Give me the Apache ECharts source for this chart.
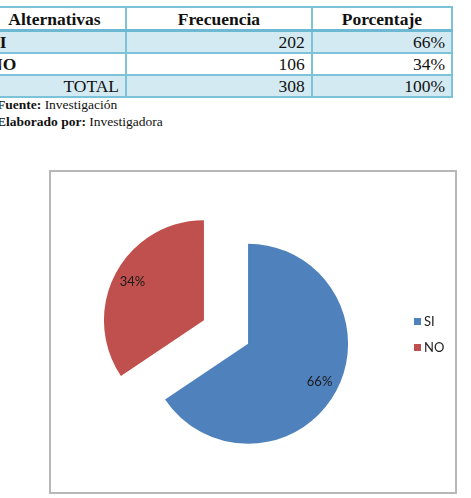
<!DOCTYPE html>
<html>
<head>
<meta charset="utf-8">
<title></title>
<style>
  body { margin: 0; background: #fff; width: 471px; height: 498px; overflow: hidden; position: relative; }
  #tabla { position: absolute; left: -18px; top: 6px; border-collapse: collapse; font-family: "Liberation Serif", "Times New Roman", serif; font-size: 17.5px; color: #111; }
  #tabla td, #tabla th { border: 2px solid #7cc3da; padding: 0 6px; line-height: 20px; }
  #tabla th { height: 21px; font-weight: bold; text-align: center; border-bottom: 3px solid #6db9d3; }
  #tabla tr.sombra td { background: #d4eaf2; }
  #tabla td.nom { font-weight: bold; text-align: left; }
  #tabla td.num { text-align: right; }
  #tabla td.tot { text-align: right; font-weight: normal; }
  .nota { position: absolute; left: -3px; font-family: "Liberation Serif", "Times New Roman", serif; font-size: 13.5px; color: #111; }
  #main { position: absolute; left: 49px; top: 170px; width: 404px; height: 320px; border: 2px solid #b8b8b8; }
</style>
</head>
<body>
<table id="tabla">
  <colgroup><col style="width:146px"><col style="width:193px"><col style="width:144px"></colgroup>
  <thead><tr><th>Alternativas</th><th>Frecuencia</th><th>Porcentaje</th></tr></thead>
  <tbody id="cuerpo"></tbody>
</table>
<div class="nota" style="top:97px"><b>Fuente:</b> Investigación</div>
<div class="nota" style="top:114px"><b>Elaborado por:</b> Investigadora</div>
<div id="main"></div>
<script src="https://cdn.jsdelivr.net/npm/echarts@6/dist/echarts.min.js"></script>
<script>
// datos de la tabla y del grafico
var alternativas = ['SI', 'NO'];
var frecuencias = [202, 106];
var porcentajes = ['66%', '34%'];
var totalTexto = ['TOTAL', '308', '100%'];

// llenar la tabla
var cuerpo = document.getElementById('cuerpo');
var html = '';
for (var i = 0; i < alternativas.length; i++) {
    html += '<tr class="' + (i % 2 === 0 ? 'sombra' : '') + '"><td class="nom">' + alternativas[i] +
        '</td><td class="num">' + frecuencias[i] + '</td><td class="num">' + porcentajes[i] + '</td></tr>';
}
html += '<tr class="sombra"><td class="tot">' + totalTexto[0] + '</td><td class="num">' + totalTexto[1] +
    '</td><td class="num">' + totalTexto[2] + '</td></tr>';
cuerpo.innerHTML = html;

var chart = echarts.init(document.getElementById('main'));

// angulo medio de cada sector, para llevar la etiqueta hacia fuera (como en Excel)
var total = frecuencias.reduce(function (a, b) { return a + b; }, 0);
var acum = 0;
var angMedio = frecuencias.map(function (v) {
    var m = (acum + v / 2) / total * Math.PI * 2;
    acum += v;
    return m;
});

var option = {
    animation: false,
    color: ['#4f81bd', '#c0504d'],
    legend: {
        orient: 'vertical',
        left: 358,
        top: 138,
        icon: 'rect',
        itemWidth: 7,
        itemHeight: 7,
        itemGap: 13,
        selectedMode: false,
        textStyle: { fontFamily: 'Lato', fontSize: 13, color: '#222', padding: [0, 0, 0, -2] },
        data: alternativas
    },
    series: [{
        type: 'pie',
        center: [175, 160],
        radius: [0, 100],
        startAngle: 90,
        clockwise: true,
        selectedMode: 'multiple',
        selectedOffset: 25,
        percentPrecision: 0,
        silent: true,
        label: {
            show: true,
            position: 'inside',
            formatter: '{d}%',
            fontFamily: 'Lato',
            fontSize: 13,
            color: '#1a1a1a'
        },
        labelLine: { show: false },
        labelLayout: function (p) {
            var m = angMedio[p.dataIndex];
            return { dx: Math.sin(m) * 28, dy: -Math.cos(m) * 28 };
        },
        emphasis: { disabled: true },
        data: alternativas.map(function (n, i) {
            return { name: n, value: frecuencias[i], selected: true };
        })
    }]
};
chart.setOption(option);
</script>
</body>
</html>
